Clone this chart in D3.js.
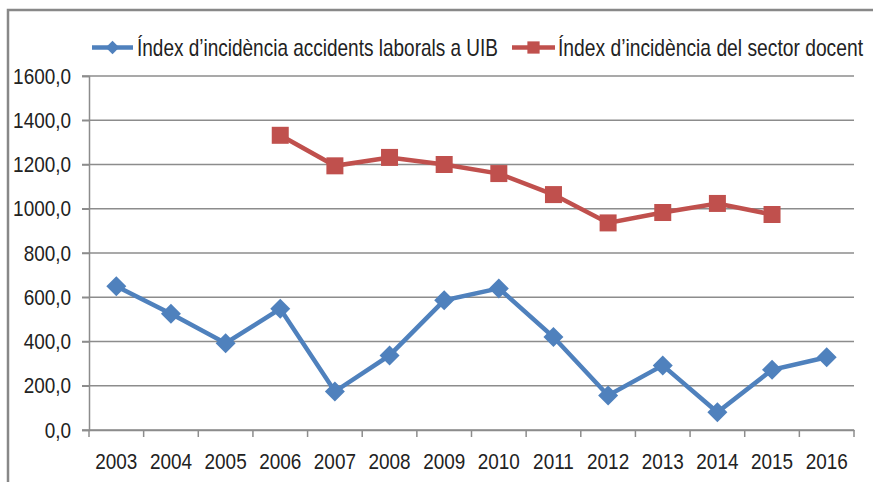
<!DOCTYPE html>
<html>
<head>
<meta charset="utf-8">
<script src="https://cdn.jsdelivr.net/npm/d3@7"></script>
<style>
  body { margin: 0; background: #fff; }
  text { font-family: "Liberation Sans", Arial, sans-serif; fill: #222; }
</style>
</head>
<body>
<script>
// years on the x axis
const years = ['2003', '2004', '2005', '2006', '2007', '2008', '2009',
               '2010', '2011', '2012', '2013', '2014', '2015', '2016']

// incidence index, UIB work accidents
const uib = [650, 525, 392, 548, 174, 337, 586, 640, 420, 156, 292, 80, 272, 329]

// incidence index, teaching sector (starts 2006, ends 2015)
const docent = [null, null, null, 1332, 1194, 1232, 1200, 1159, 1064, 936, 983, 1024, 974, null]

const yTicks = [0, 200, 400, 600, 800, 1000, 1200, 1400, 1600]

const seriesNames = ['Índex d’incidència accidents laborals a UIB', 'Índex d’incidència del sector docent']

const m = { width: 873, height: 482, left: 89, right: 854, top: 76, bottom: 430 }

const svg = d3.select('body').append('svg')
    .attr('width', m.width)
    .attr('height', m.height)

// the original font is a narrow one, so squeeze the text horizontally
function squeeze(sel, k) {
    sel.each(function() {
        const w = this.getComputedTextLength()
        d3.select(this)
            .attr('textLength', w * k)
            .attr('lengthAdjust', 'spacingAndGlyphs')
    })
}

// outer chart frame (only top and left edges are visible in the crop)
svg.append('path')
    .attr('d', 'M8,482 V10 H873')
    .attr('fill', 'none')
    .attr('stroke', '#888')
    .attr('stroke-width', 2.5)

const x = d3.scaleBand()
    .domain(years)
    .range([m.left, m.right])

const y = d3.scaleLinear()
    .domain([0, 1600])
    .range([m.bottom, m.top])

// gridlines
svg.append('g')
    .selectAll('line')
    .data(yTicks)
    .enter()
    .append('line')
        .attr('x1', m.left - 7)
        .attr('x2', m.right)
        .attr('y1', d => y(d))
        .attr('y2', d => y(d))
        .attr('stroke', '#8c8c8c')
        .attr('stroke-width', 1.5)

// y axis
const yAxis = svg.append('g')
    .attr('transform', `translate(${m.left},0)`)
    .call(d3.axisLeft(y).tickValues(yTicks).tickSize(7)
        .tickFormat(d => d3.format('.1f')(d).replace('.', ',')))
yAxis.select('.domain').attr('stroke', '#8c8c8c').attr('stroke-width', 1.5)
yAxis.selectAll('.tick line').attr('stroke', '#8c8c8c').attr('stroke-width', 1.5)
yAxis.selectAll('.tick text')
    .attr('x', -18)
    .style('font-size', '22px')
    .style('font-family', null)
    .attr('fill', '#222')
    .call(squeeze, 0.86)

// x axis
const xAxis = svg.append('g')
    .attr('transform', `translate(0,${m.bottom})`)
    .call(d3.axisBottom(x).tickSize(0))
xAxis.select('.domain').attr('stroke', '#8c8c8c').attr('stroke-width', 1.5)
xAxis.selectAll('.tick text')
    .attr('y', 23)
    .style('font-size', '22px')
    .style('font-family', null)
    .attr('fill', '#222')
    .call(squeeze, 0.86)

// tick marks between categories
svg.append('g')
    .selectAll('line')
    .data(years.concat(['end']))
    .enter()
    .append('line')
        .attr('x1', (d, i) => m.left + i * x.step())
        .attr('x2', (d, i) => m.left + i * x.step())
        .attr('y1', m.bottom)
        .attr('y2', m.bottom + 7)
        .attr('stroke', '#8c8c8c')
        .attr('stroke-width', 1.5)

const cx = d => x(d) + x.bandwidth() / 2

const line = d3.line()
    .defined(d => d.v != null)
    .x(d => cx(d.year))
    .y(d => y(d.v))

const uibData = years.map((yr, i) => ({ year: yr, v: uib[i] }))
const docentData = years.map((yr, i) => ({ year: yr, v: docent[i] }))

const blue = '#4f81bd'
const red = '#c0504d'

svg.append('path')
    .datum(docentData)
    .attr('fill', 'none')
    .attr('stroke', red)
    .attr('stroke-width', 4.5)
    .attr('d', line)

svg.append('g')
    .selectAll('rect')
    .data(docentData.filter(d => d.v != null))
    .enter()
    .append('rect')
        .attr('x', d => cx(d.year) - 8.5)
        .attr('y', d => y(d.v) - 8.5)
        .attr('width', 17)
        .attr('height', 17)
        .attr('fill', red)

svg.append('path')
    .datum(uibData)
    .attr('fill', 'none')
    .attr('stroke', blue)
    .attr('stroke-width', 4.5)
    .attr('d', line)

svg.append('g')
    .selectAll('path')
    .data(uibData)
    .enter()
    .append('path')
        .attr('transform', d => `translate(${cx(d.year)},${y(d.v)}) rotate(45)`)
        .attr('d', d3.symbol().type(d3.symbolSquare).size(200))
        .attr('fill', blue)

// legend
const legend = [
    { name: seriesNames[0], color: blue, x1: 92, x2: 133, tx: 137, w: 361, shape: 'diamond' },
    { name: seriesNames[1], color: red, x1: 512, x2: 555, tx: 558, w: 305, shape: 'square' }
]
const lg = svg.append('g')
    .selectAll('g')
    .data(legend)
    .enter()
    .append('g')

lg.append('line')
    .attr('x1', d => d.x1)
    .attr('x2', d => d.x2)
    .attr('y1', 47.5)
    .attr('y2', 47.5)
    .attr('stroke', d => d.color)
    .attr('stroke-width', 4.5)

lg.append('path')
    .attr('transform', d => `translate(${(d.x1 + d.x2) / 2},47.5)` + (d.shape === 'diamond' ? ' rotate(45)' : ''))
    .attr('d', d => d3.symbol().type(d3.symbolSquare).size(d.shape === 'diamond' ? 90 : 150)())
    .attr('fill', d => d.color)

lg.append('text')
    .attr('x', d => d.tx)
    .attr('y', 47.5)
    .attr('dy', '0.35em')
    .style('font-size', '24px')
    .attr('textLength', d => d.w)
    .attr('lengthAdjust', 'spacingAndGlyphs')
    .text(d => d.name)
</script>
</body>
</html>
